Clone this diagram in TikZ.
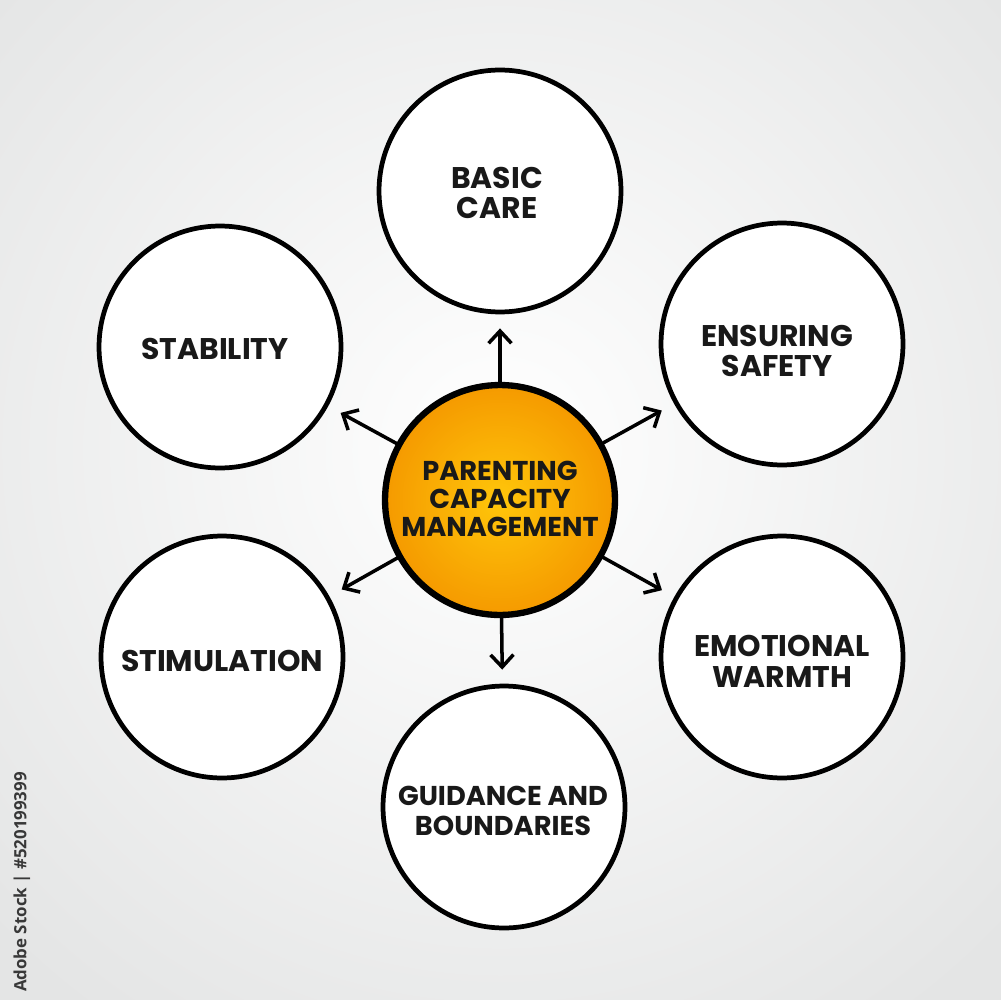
\documentclass[tikz,border=0pt]{standalone}
\usepackage{fontspec}
\setmainfont{Poppins}
\setsansfont{Open Sans}
\usetikzlibrary{arrows.meta}
\definecolor{bgedge}{HTML}{E4E5E5}
\definecolor{orin}{HTML}{FFC60A}
\definecolor{orout}{HTML}{F59A00}
\tikzset{
  x=0.02cm, y=-0.02cm,
  topic/.style={circle, draw=black, line width=2.7pt, fill=white, minimum size=4.84cm, inner sep=0pt},
  hub/.style={circle, draw=black, line width=3.6pt, inner color=orin, outer color=orout, minimum size=4.6cm, inner sep=0pt},
  lbl/.style={align=center, font=\fontsize{17}{17.5}\selectfont\bfseries, text=black!90},
  hublbl/.style={align=center, font=\fontsize{15.5}{15.8}\selectfont\bfseries, text=black!90},
  arr/.style={line width=2pt, -{Straight Barb[length=7pt,width=13pt,line width=2pt]}, shorten >=8pt, line cap=round}
}
\begin{document}
\begin{tikzpicture}
\useasboundingbox (0,0) rectangle (1000,1000);
\shade[inner color=white, outer color=bgedge] (-200,-250) rectangle (1200,1150);
\node[hub] (c) at (500,500) {};
\node[topic] (basic) at (500,191) {};
\node[topic] (stab) at (220,347) {};
\node[topic] (safe) at (782,344) {};
\node[topic] (stim) at (222,657) {};
\node[topic] (warm) at (782,657) {};
\node[topic] (guid) at (504,807) {};
\node[hublbl] (tc) at (500,499) {PARENTING\\CAPACITY\\MANAGEMENT};
\node[lbl] (tbasic) at (497,193) {BASIC\\CARE};
\node[lbl] (tstab) at (215,349) {STABILITY};
\node[lbl] (tsafe) at (777,351) {ENSURING\\SAFETY};
\node[lbl] (tstim) at (222,661) {STIMULATION};
\node[lbl] (twarm) at (782,661) {EMOTIONAL\\WARMTH};
\node[lbl, font=\fontsize{15.5}{17}\selectfont\bfseries] (tguid) at (503,811) {GUIDANCE AND\\BOUNDARIES};
\draw[arr] (c) -- (basic);
\draw[arr] (c) -- (stab);
\draw[arr] (c) -- (safe);
\draw[arr] (c) -- (stim);
\draw[arr] (c) -- (warm);
\draw[arr] (c) -- (guid);
\node[rotate=90, font=\sffamily\bfseries\fontsize{9.6}{10}\selectfont, text=black!78] (wm) at (22,882) {Adobe Stock | \#520199399};
\end{tikzpicture}
\end{document}
